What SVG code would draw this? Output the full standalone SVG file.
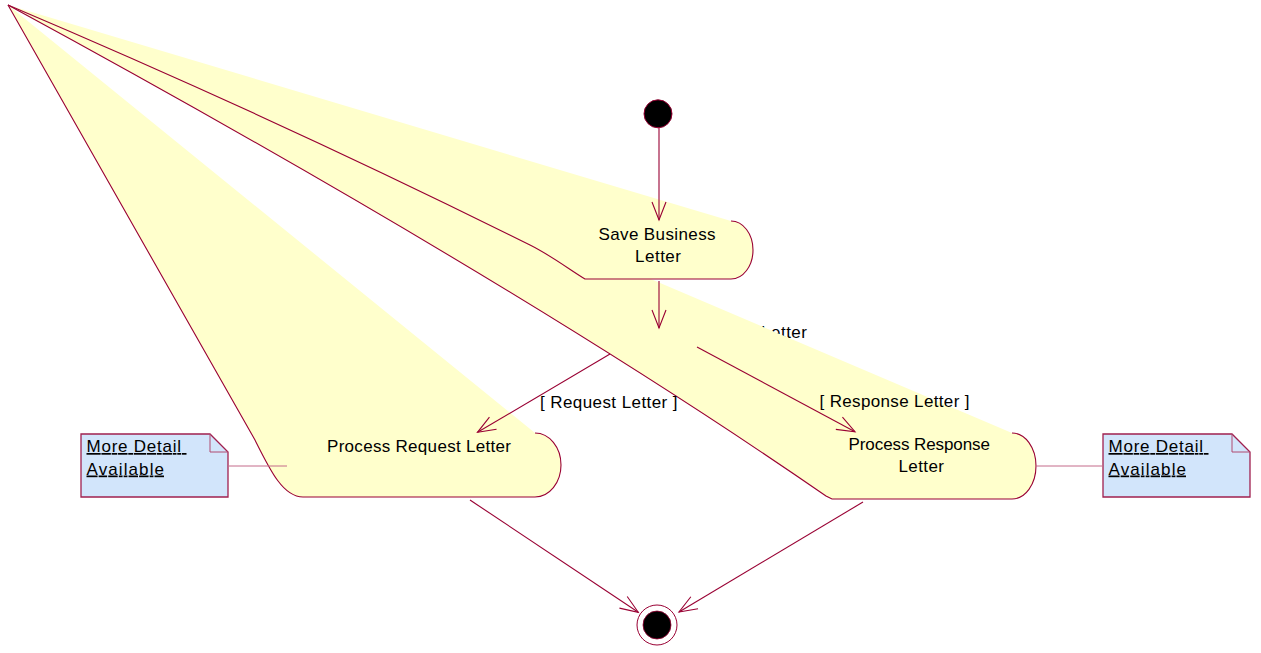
<svg xmlns="http://www.w3.org/2000/svg" width="1261" height="653" viewBox="0 0 1261 653">
  <defs>
    <style>
      .fill { fill: #FFFFCC; stroke: none; }
      .edge { fill: none; stroke: #990033; stroke-width: 1.1; }
      .label { font-family: "Liberation Sans", Arial, sans-serif; font-size: 17px; fill: #000; }
      .note { fill: #D2E5FB; stroke: #A0204F; stroke-width: 1.3; }
      .fold { fill: none; stroke: #B04A70; stroke-width: 1; }
      .link { stroke: #C46A8A; stroke-width: 1; }
      .flow { fill: none; stroke: #990033; stroke-width: 1.1; marker-end: url(#open-arrow); }
      .ul { text-decoration: underline; }
    </style>
    <marker id="open-arrow" markerUnits="userSpaceOnUse" viewBox="0 0 22 16" markerWidth="22" markerHeight="16" refX="20" refY="8" orient="auto">
      <path d="M2,1 L20,8 L2,15" fill="none" stroke="#990033" stroke-width="1.1"/>
    </marker>
  </defs>

  <rect width="1261" height="653" fill="#FFFFFF"/>

  <!-- Activity: Process Request Letter -->
  <g id="process-request-letter">
    <path class="fill" d="M8,5 L535,433 A26,32 0 0 1 535,497 L303,497 C283,497 270,470 255,440 Z"/>
    <path class="edge" d="M535,433 A26,32 0 0 1 535,497 L303,497 C283,497 270,470 255,440 L8,5"/>
  </g>

  <!-- guard label lying beneath the response activity -->
  <text id="branch-label" class="label" x="761" y="338" textLength="46">Letter</text>

  <!-- Activity: Process Response Letter -->
  <g id="process-response-letter">
    <path class="fill" d="M8,5 L1012,433 A24,33 0 0 1 1012,499 L832,499 L826,496 Q509,277 8,5 Z"/>
    <path class="edge" d="M1012,433 A24,33 0 0 1 1012,499 L832,499 L826,496 Q509,277 8,5"/>
    <text class="label" x="848.5" y="449.5" textLength="141.5">Process Response</text>
    <text class="label" x="898.5" y="472" textLength="45.5">Letter</text>
  </g>

  <!-- Activity: Save Business Letter -->
  <g id="save-business-letter">
    <path class="fill" d="M8,5 L731,221 A22,29 0 0 1 731,279 L585,279 C570,270 552,256 530,245 Q277,119 8,5 Z"/>
    <path class="edge" d="M731,221 A22,29 0 0 1 731,279 L585,279 C570,270 552,256 530,245 Q277,119 8,5"/>
    <text class="label" x="598.5" y="239.5" textLength="117">Save Business</text>
    <text class="label" x="635" y="262" textLength="46">Letter</text>
  </g>

  <g id="process-request-letter-text">
    <text class="label" x="327" y="452" textLength="184">Process Request Letter</text>
  </g>

  <!-- Initial state -->
  <g id="start">
    <circle cx="658" cy="113.8" r="14" fill="#000" stroke="#990033" stroke-width="1"/>
  </g>

  <!-- Final state -->
  <g id="end">
    <circle cx="657" cy="625" r="20" fill="#FFFFFF" stroke="#990033" stroke-width="1"/>
    <circle cx="657" cy="625" r="14" fill="#000" stroke="#990033" stroke-width="0.8"/>
  </g>

  <!-- Notes -->
  <g id="note-request">
    <path class="note" d="M81,434 L210,434 L228,452 L228,497 L81,497 Z"/>
    <path class="fold" d="M210,434 L210,452 L228,452"/>
    <text class="label ul" x="86.5" y="452" textLength="100" xml:space="preserve">More Detail </text>
    <text class="label ul" x="86.5" y="474.5" textLength="77.5">Available</text>
  </g>
  <g id="note-response">
    <path class="note" d="M1103,434 L1232,434 L1250,452 L1250,497 L1103,497 Z"/>
    <path class="fold" d="M1232,434 L1232,452 L1250,452"/>
    <text class="label ul" x="1108.5" y="452" textLength="100" xml:space="preserve">More Detail </text>
    <text class="label ul" x="1108.5" y="474.5" textLength="77.5">Available</text>
  </g>

  <!-- Transitions and note links -->
  <g id="connectors">
    <line class="link" x1="229" y1="466" x2="287" y2="466"/>
    <line class="link" x1="1036" y1="466" x2="1103" y2="466"/>
    <line class="flow" x1="659" y1="128" x2="659" y2="220"/>
    <line class="flow" x1="659" y1="281" x2="659" y2="328"/>
    <line class="flow" x1="610" y1="354" x2="477.5" y2="432.3"/>
    <line class="flow" x1="697" y1="347" x2="855" y2="431.7"/>
    <line class="flow" x1="470" y1="500" x2="638.3" y2="612.3"/>
    <line class="flow" x1="863" y1="502" x2="679" y2="612"/>
    <text class="label" x="540" y="407.5" textLength="137.5">[ Request Letter ]</text>
    <text class="label" x="819.5" y="407" textLength="150">[ Response Letter ]</text>
  </g>
</svg>
